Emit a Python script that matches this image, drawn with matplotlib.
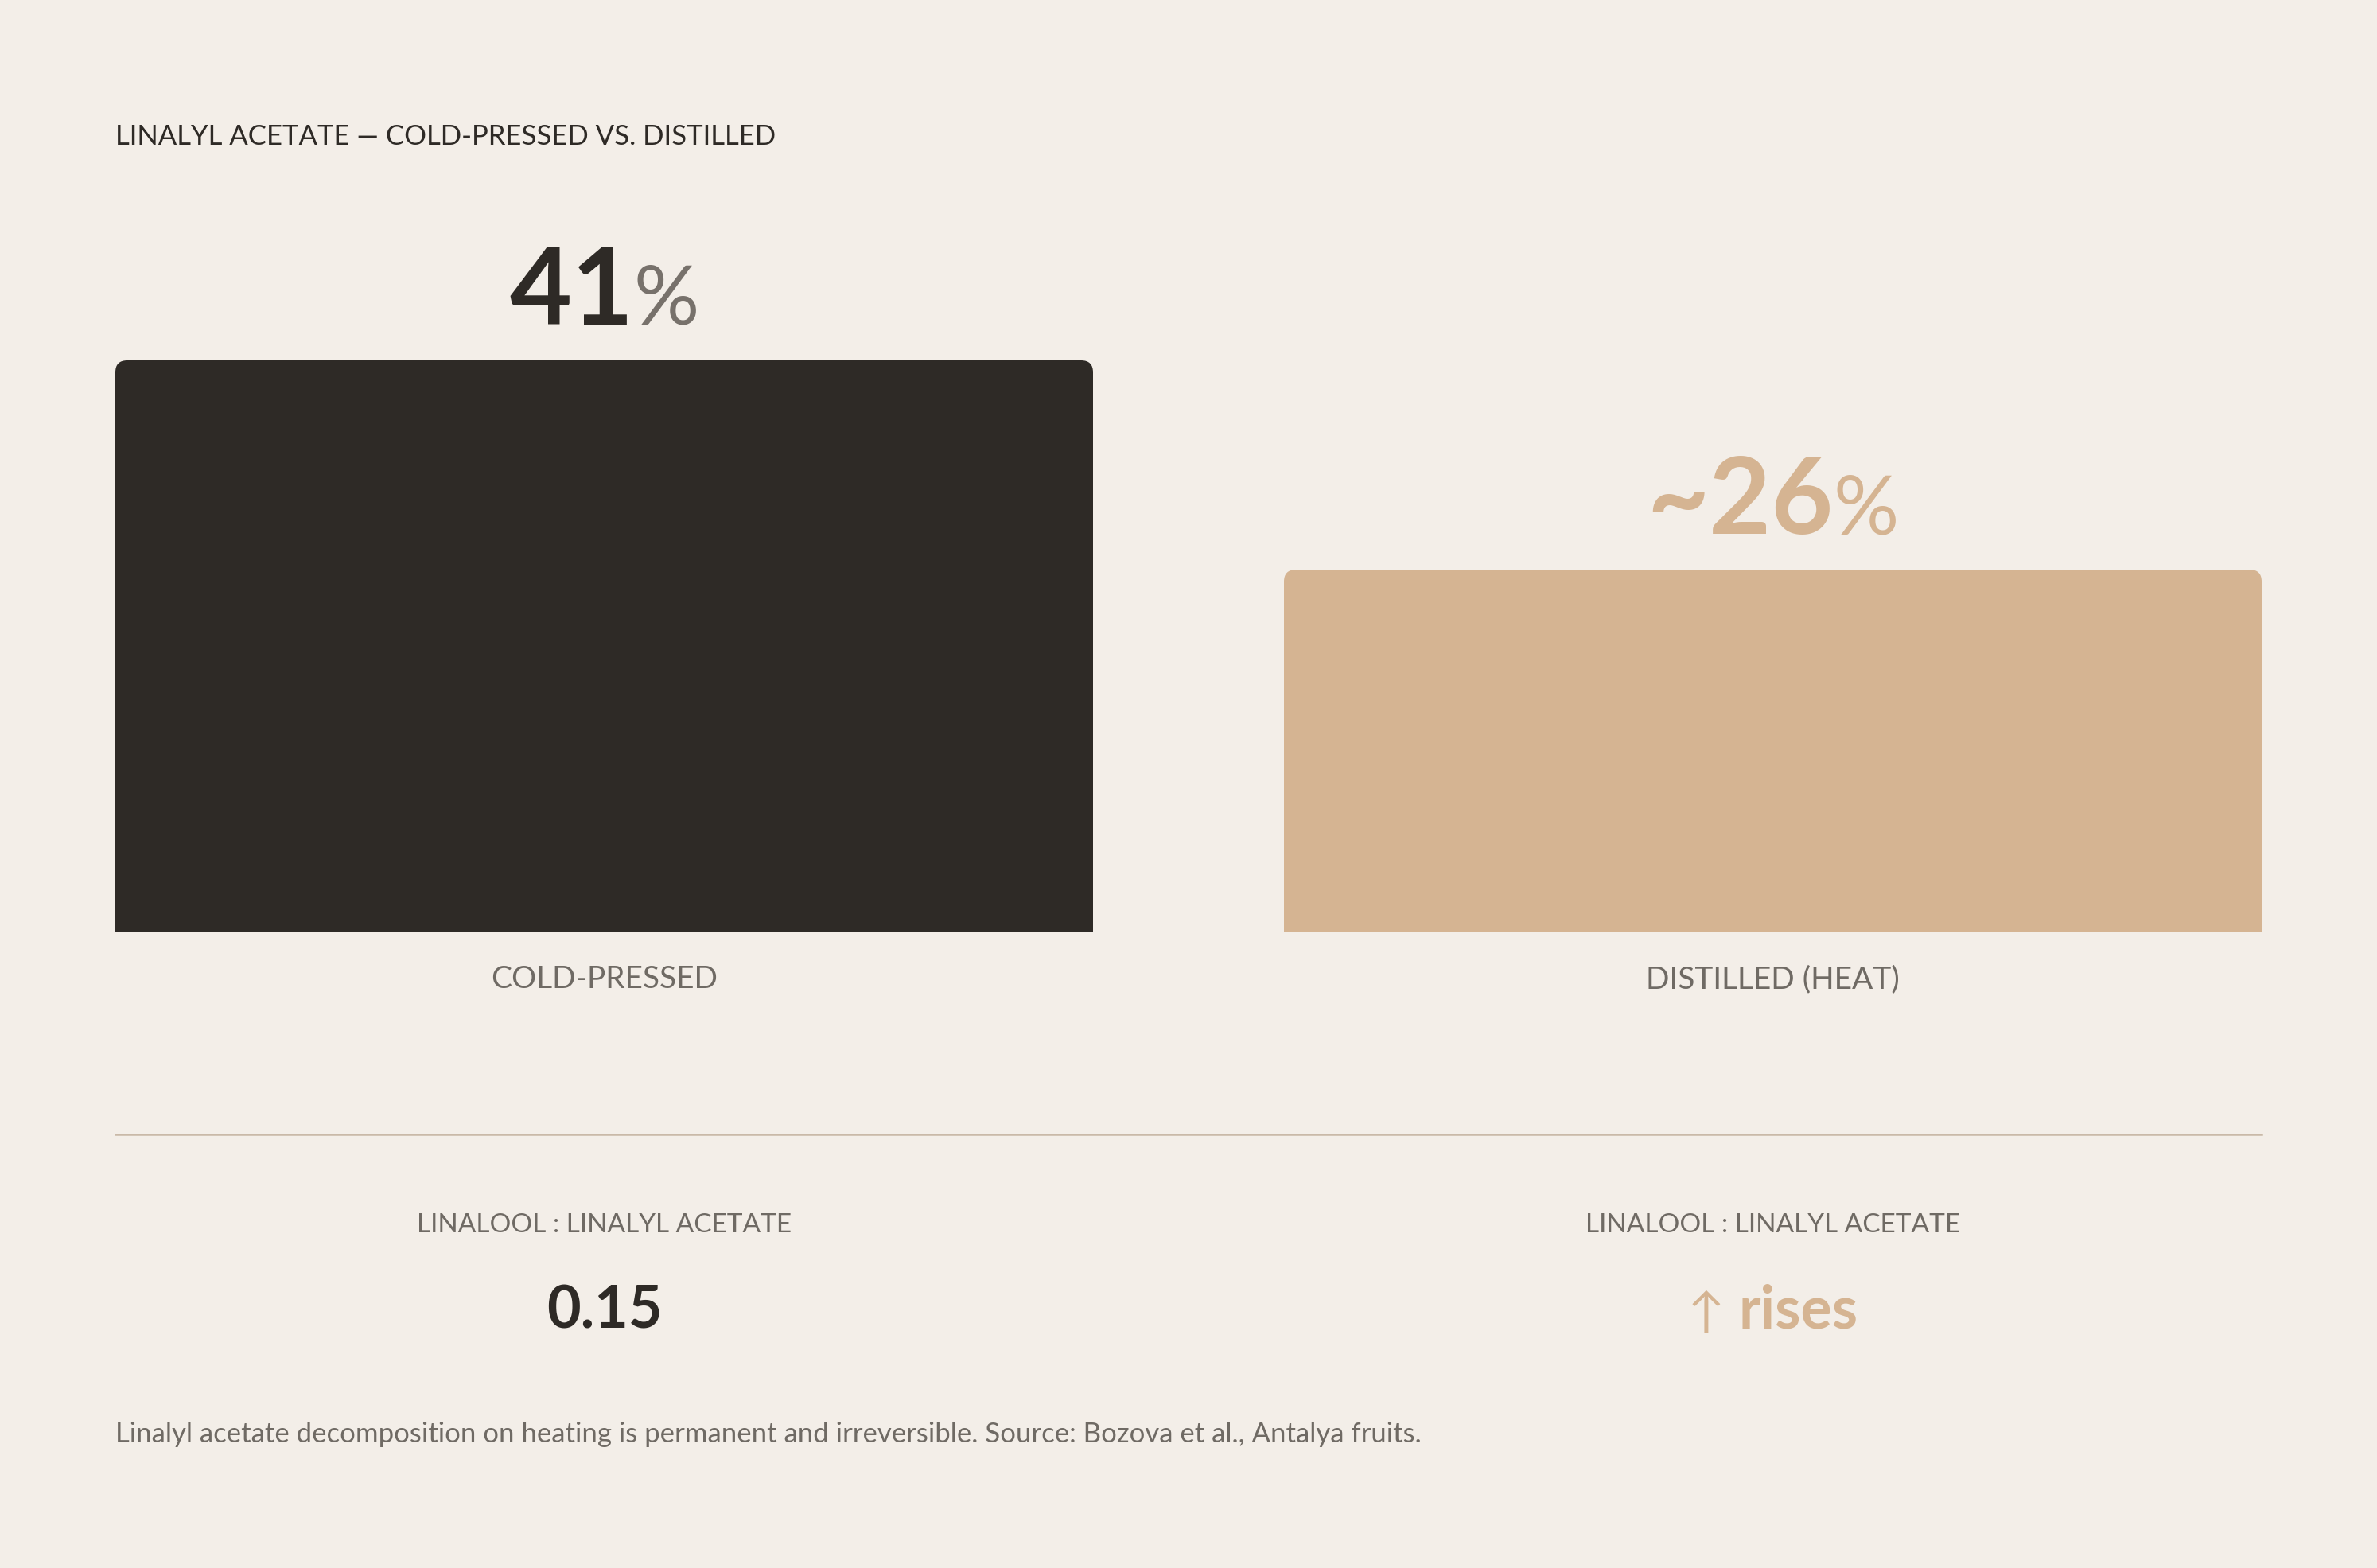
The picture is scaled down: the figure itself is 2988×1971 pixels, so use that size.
import matplotlib.pyplot as plt
from matplotlib.patches import FancyBboxPatch, Rectangle
from matplotlib.lines import Line2D
from matplotlib.transforms import offset_copy

# data
categories = ["COLD-PRESSED", "DISTILLED (HEAT)"]
values = [41, 26]
value_labels = ["41", "~26"]
ratio_title = "LINALOOL : LINALYL ACETATE"
ratio_values = ["0.15", "rises"]
ratio_prefix = ["", "\u2191"]
title = "LINALYL ACETATE \u2014 COLD-PRESSED VS. DISTILLED"
note = ("Linalyl acetate decomposition on heating is permanent and irreversible. "
        "Source: Bozova et al., Antalya fruits.")

BG = "#f3eee8"
DARK = "#2e2a26"
TAN = "#d5b492"
GRAY = "#6f6a64"
PCT_GRAY = "#77716b"
RULE = "#c9b9a8"
bar_colors = [DARK, TAN]
num_colors = [DARK, TAN]
pct_colors = [PCT_GRAY, TAN]

plt.rcParams['font.family'] = ['Lato', 'DejaVu Sans']

W, H = 2988, 1971
DPI = 200
fig = plt.figure(figsize=(W / DPI, H / DPI), dpi=DPI, facecolor=BG)


def fx(x):
    return x / W


def fy(y):
    return 1 - y / H


# bar area (pixel layout)
left_px, right_px = 145, 2843
base_px = 1172
top41_px = 453
ymax = 50
top_px = base_px - (base_px - top41_px) * ymax / values[0]
ax = fig.add_axes([fx(left_px), fy(base_px), fx(right_px) - fx(left_px),
                   fy(top_px) - fy(base_px)])
ax.set_facecolor(BG)
ax.patch.set_alpha(0)
for s in ax.spines.values():
    s.set_visible(False)
ax.set_xticks([])
ax.set_yticks([])

bar_w_px = 1229
step_px = (right_px - left_px - bar_w_px)
bw = bar_w_px / step_px
ax.set_xlim(-bw / 2, 1 + bw / 2)
ax.set_ylim(0, ymax)

x_per_px = 1 / step_px
y_per_px = ymax / (base_px - top_px)
rad_px = 15
rad = rad_px * x_per_px
asp = y_per_px / x_per_px

for i, v in enumerate(values):
    x0 = i - bw / 2
    ax.add_patch(FancyBboxPatch((x0, 0), bw, v,
                                boxstyle=f"round,pad=0,rounding_size={rad}",
                                mutation_aspect=asp, fc=bar_colors[i], ec='none'))
    ax.add_patch(Rectangle((x0, 0), bw, v / 2, fc=bar_colors[i], ec='none'))

renderer = fig.canvas.get_renderer()


def paired(t1, t2, trans, gap=0):
    # centre two texts (t1 right-aligned, t2 left-aligned) around their anchor
    w1 = t1.get_window_extent(renderer).width
    w2 = t2.get_window_extent(renderer).width
    shift = (w1 - w2) / 2
    t1.set_transform(offset_copy(trans, fig=fig, x=shift - gap / 2, units='dots'))
    t2.set_transform(offset_copy(trans, fig=fig, x=shift + gap / 2, units='dots'))


# value labels above bars
for i, v in enumerate(values):
    y = v + 45 * y_per_px
    t1 = ax.text(i, y, value_labels[i], ha='right', va='baseline',
                 fontsize=48.5, fontweight='bold', color=num_colors[i])
    t2 = ax.text(i, y, "%", ha='left', va='baseline', fontsize=37,
                 color=pct_colors[i])
    paired(t1, t2, ax.transData)

# category labels
centers_px = [left_px + bar_w_px / 2, right_px - bar_w_px / 2]
for i, c in enumerate(categories):
    fig.text(fx(centers_px[i]), fy(1231), c, ha='center', va='center',
             fontsize=14, color=GRAY)

# title
fig.text(fx(145), fy(182), title, ha='left', va='baseline', fontsize=12.5,
         color=DARK)

# divider
fig.add_artist(Line2D([fx(left_px), fx(right_px)], [fy(1426), fy(1426)],
                      transform=fig.transFigure, color=RULE, lw=0.9))

# ratio block
for i in range(2):
    fig.text(fx(centers_px[i]), fy(1549), ratio_title, ha='center',
             va='baseline', fontsize=12, color=GRAY)
for i, rv in enumerate(ratio_values):
    if ratio_prefix[i]:
        t1 = fig.text(fx(centers_px[i]), fy(1669), ratio_prefix[i], ha='right',
                      va='baseline', fontsize=22, color=TAN)
        t2 = fig.text(fx(centers_px[i]), fy(1669), rv, ha='left',
                      va='baseline', fontsize=26.5, fontweight='bold', color=TAN)
        paired(t1, t2, fig.transFigure, gap=18)
    else:
        fig.text(fx(centers_px[i]), fy(1669), rv, ha='center', va='baseline',
                 fontsize=26.5, fontweight='bold', color=DARK)

# footnote
fig.text(fx(145), fy(1813), note, ha='left', va='baseline', fontsize=12.5,
         color=GRAY)

fig.savefig("out.png", dpi=DPI, facecolor=BG)
